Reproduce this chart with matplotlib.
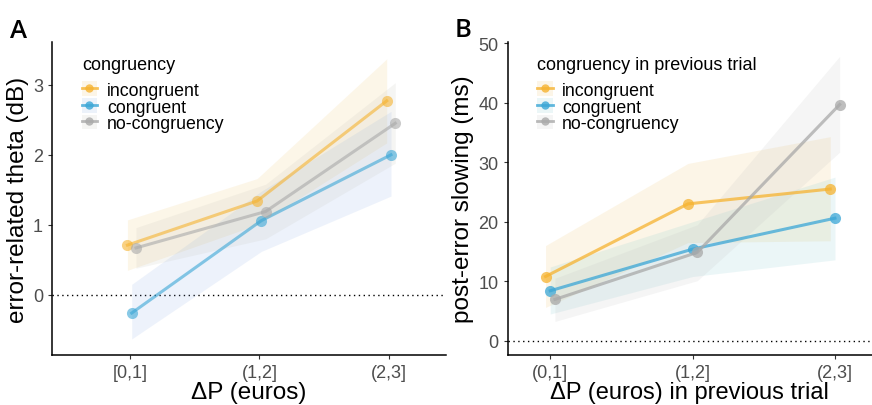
import matplotlib.pyplot as plt
from matplotlib.lines import Line2D
from matplotlib.patches import Patch

plt.rcParams['font.family'] = ['Liberation Sans', 'DejaVu Sans']

groups = ['incongruent', 'congruent', 'no-congruency']

# panel A: error-related theta (dB)
a_bins = ['[0,1]', '(1,2]', '(2,3]']
a_mean = {'incongruent': [0.71, 1.34, 2.77],
          'congruent': [-0.26, 1.06, 2.00],
          'no-congruency': [0.67, 1.19, 2.45]}
a_low = {'incongruent': [0.35, 1.00, 2.17],
         'congruent': [-0.63, 0.62, 1.41],
         'no-congruency': [0.38, 0.80, 1.88]}
a_high = {'incongruent': [1.07, 1.66, 3.37],
          'congruent': [0.15, 1.48, 2.62],
          'no-congruency': [0.96, 1.58, 3.03]}

# panel B: post-error slowing (ms)
b_bins = ['(0,1]', '(1,2]', '(2,3]']
b_mean = {'incongruent': [10.8, 23.0, 25.5],
          'congruent': [8.4, 15.4, 20.6],
          'no-congruency': [6.95, 14.85, 39.7]}
b_low = {'incongruent': [5.6, 16.5, 16.8],
         'congruent': [4.5, 10.8, 13.6],
         'no-congruency': [3.25, 10.1, 31.7]}
b_high = {'incongruent': [16.0, 29.8, 34.3],
          'congruent': [12.4, 20.0, 27.5],
          'no-congruency': [10.5, 19.5, 47.8]}

line_col = {'incongruent': '#F6B330', 'congruent': '#3AA6D6', 'no-congruency': '#A9A9A9'}
fill_a = {'incongruent': '#EFC063', 'congruent': '#86A9E3', 'no-congruency': '#BDBDB0'}
fill_b = {'incongruent': '#EFC063', 'congruent': '#7CC6CC', 'no-congruency': '#BDBDBD'}
dodge = {'incongruent': -0.033, 'congruent': 0.0, 'no-congruency': 0.033}

fig = plt.figure(figsize=(8.72, 4.06), dpi=100)
axA = fig.add_axes([0.0596, 0.123, 0.452, 0.771])
axB = fig.add_axes([0.582, 0.123, 0.418, 0.771])


def draw(ax, bins, mean, low, high, fills, shift, alpha, falpha):
    xs = range(len(bins))
    for g in groups:
        x = [i + shift + dodge[g] for i in xs]
        ax.fill_between(x, low[g], high[g], color=fills[g], alpha=falpha,
                        lw=0, zorder=1)
    for g in groups:
        x = [i + shift + dodge[g] for i in xs]
        ax.plot(x, mean[g], color=line_col[g], lw=2.2, alpha=alpha,
                marker='o', ms=8, mew=0, zorder=3)
    ax.axhline(0, color='black', ls=(0, (1, 2.5)), lw=1, zorder=0)
    ax.set_xticks(list(xs))
    ax.set_xticklabels(bins)
    for s in ['top', 'right']:
        ax.spines[s].set_visible(False)
    for s in ['left', 'bottom']:
        ax.spines[s].set_linewidth(1.1)
    ax.tick_params(axis='both', labelsize=13, labelcolor='#4D4D4D',
                   length=3, width=0.8, color='#333333')
    ax.set_facecolor('none')


draw(axA, a_bins, a_mean, a_low, a_high, fill_a, 0.015, 0.6, 0.14)
axA.set_xlim(-0.6, 2.44)
axA.set_ylim(-0.86, 3.61)
axA.set_yticks([0, 1, 2, 3])
axA.set_xlabel('ΔP (euros)', fontsize=17.5, labelpad=0)
axA.set_ylabel('error-related theta (dB)', fontsize=17.5, labelpad=3)

draw(axB, b_bins, b_mean, b_low, b_high, fill_b, 0.0, 0.75, 0.15)
axB.set_xlim(-0.3, 2.26)
axB.set_ylim(-2.4, 50.2)
axB.set_yticks([0, 10, 20, 30, 40, 50])
axB.set_xlabel('ΔP (euros) in previous trial', fontsize=17, labelpad=0)
axB.set_ylabel('post-error slowing (ms)', fontsize=17.5, labelpad=3)


def legend(ax, title, fills, anchor):
    handles = [(Patch(color=fills[g], alpha=0.15, lw=0),
                Line2D([], [], color=line_col[g], lw=2, alpha=0.8,
                       marker='o', ms=6, mew=0)) for g in groups]
    leg = ax.legend(handles, groups, title=title, loc='upper left',
                    bbox_to_anchor=anchor, frameon=False, fontsize=12.8,
                    title_fontsize=13, handlelength=0.85, handleheight=0.9,
                    handletextpad=0.55, labelspacing=-0.05, borderaxespad=0,
                    borderpad=0)
    leg._legend_box.align = 'left'
    leg._legend_box.sep = 6


legend(axA, 'congruency', fill_a, (0.076, 0.955))
legend(axB, 'congruency in previous trial', fill_b, (0.082, 0.955))

fig.text(0.012, 0.952, 'A', fontsize=18.5, fontweight='semibold', va='top',
         family=['Open Sans', 'DejaVu Sans'])
fig.text(0.521, 0.955, 'B', fontsize=18.5, fontweight='semibold', va='top',
         family=['Open Sans', 'DejaVu Sans'])

fig.savefig('out.png', dpi=100)
